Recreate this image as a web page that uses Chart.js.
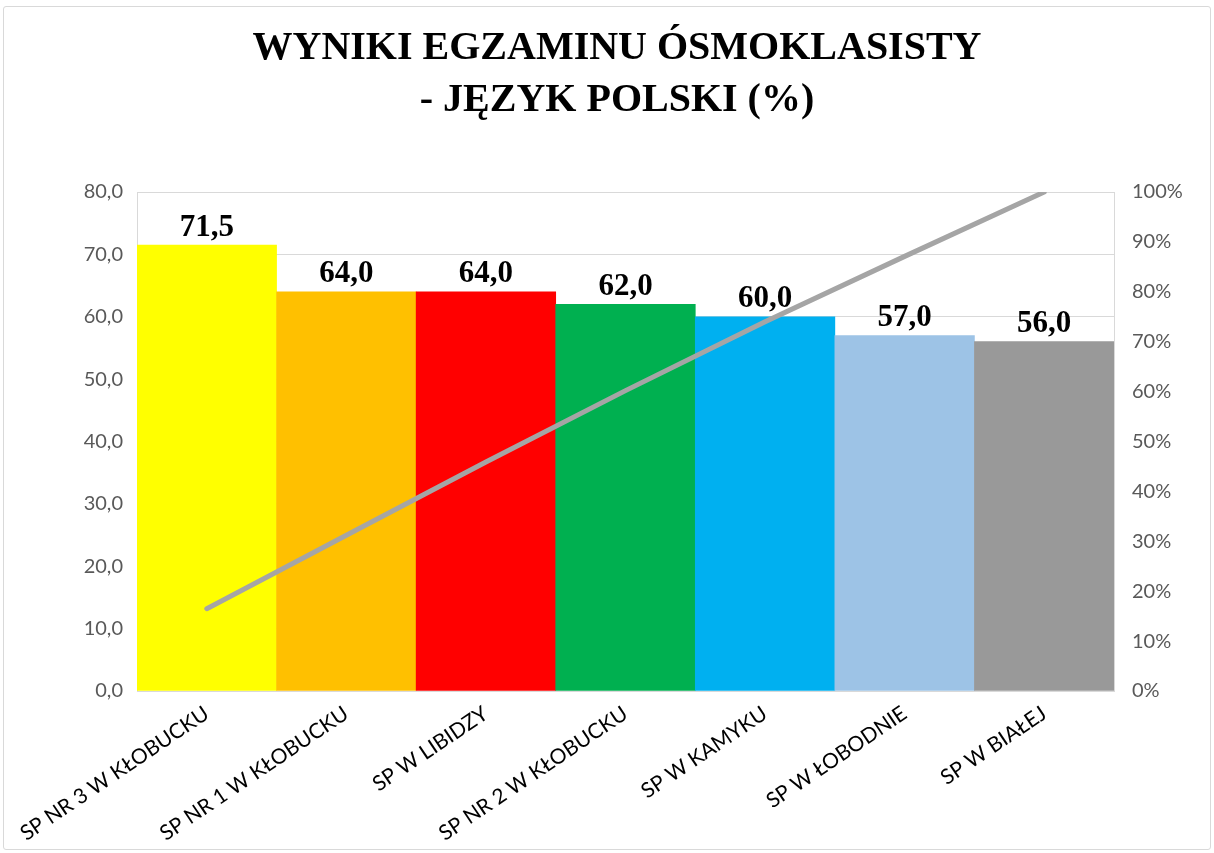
<!DOCTYPE html>
<html>
<head>
<meta charset="utf-8">
<script src="https://cdn.jsdelivr.net/npm/chart.js@4/dist/chart.umd.min.js"></script>
<style>
  html, body { margin: 0; background: #fff; }
  #wrap { position: relative; width: 1214px; height: 853px; }
  #frame { position: absolute; left: 3px; top: 6px; right: 3px; bottom: 3px; border: 1px solid #d9d9d9; border-radius: 3px; }
  canvas { position: absolute; left: 0; top: 0; }
</style>
</head>
<body>
<div id="wrap">
  <div id="frame"></div>
  <canvas id="chart" width="1214" height="853"></canvas>
</div>
<script>
// Data
const schools = [
  "SP NR 3 W KŁOBUCKU", "SP NR 1 W KŁOBUCKU", "SP W LIBIDZY", "SP NR 2 W KŁOBUCKU",
  "SP W KAMYKU", "SP W ŁOBODNIE", "SP W BIAŁEJ"
];
const scores = [71.5, 64.0, 64.0, 62.0, 60.0, 57.0, 56.0];
const cumulative = [16.5, 31.2, 45.9, 60.2, 74.0, 87.1, 100];
const barColors = ["#FFFF00", "#FFC000", "#FF0000", "#00B050", "#00B0F0", "#9DC3E6", "#999999"];
const titleLines = ["WYNIKI EGZAMINU ÓSMOKLASISTY", "- JĘZYK POLSKI (%)"];

const tickFont = { family: "Lato, sans-serif", size: 20 };

// labels above the bars
const barLabels = {
  id: "barLabels",
  afterDatasetsDraw(chart) {
    const meta = chart.getDatasetMeta(1);
    const ctx = chart.ctx;
    ctx.save();
    ctx.font = "bold 31px 'Liberation Serif', serif";
    ctx.fillStyle = "#000";
    ctx.textAlign = "center";
    ctx.textBaseline = "bottom";
    meta.data.forEach((bar, i) => {
      ctx.fillText(scores[i].toFixed(1).replace(".", ","), bar.x, bar.y - 2);
    });
    ctx.restore();
  }
};

new Chart(document.getElementById("chart"), {
  data: {
    labels: schools,
    datasets: [
      {
        type: "line",
        data: cumulative,
        yAxisID: "y2",
        borderColor: "#A5A5A5",
        borderWidth: 5,
        borderCapStyle: "round",
        pointRadius: 0,
        tension: 0,
        order: 0
      },
      {
        type: "bar",
        data: scores,
        yAxisID: "y",
        backgroundColor: barColors,
        barPercentage: 1,
        categoryPercentage: 1,
        order: 1
      }
    ]
  },
  options: {
    responsive: false,
    animation: false,
    layout: { padding: { left: 20, right: 0, top: 0, bottom: 0 } },
    plugins: {
      legend: { display: false },
      tooltip: { enabled: false },
      title: {
        display: true,
        text: titleLines,
        color: "#000",
        font: { family: "'Liberation Serif', serif", size: 40, weight: "bold", lineHeight: 1.3 },
        padding: { top: 23, bottom: 65 }
      }
    },
    scales: {
      x: {
        grid: { display: false },
        border: { display: false },
        ticks: {
          color: "#000",
          font: { family: "Lato, sans-serif", size: 21 },
          minRotation: 34,
          maxRotation: 34,
          autoSkip: false,
          padding: 2
        },
        afterFit(axis) { axis.height = 162; }
      },
      y: {
        position: "left",
        min: 0,
        max: 80,
        ticks: {
          stepSize: 10,
          color: "#595959",
          font: tickFont,
          padding: 14,
          callback: v => v.toFixed(1).replace(".", ",")
        },
        grid: { color: "#d9d9d9", drawTicks: false },
        border: { display: true, color: "#d9d9d9" },
        afterFit(axis) { axis.width = 117; }
      },
      y2: {
        position: "right",
        min: 0,
        max: 100,
        ticks: {
          stepSize: 10,
          color: "#595959",
          font: tickFont,
          padding: 18,
          callback: v => v + "%"
        },
        grid: { display: false, drawTicks: false },
        border: { display: true, color: "#d9d9d9" },
        afterFit(axis) { axis.width = 100; }
      }
    }
  },
  plugins: [barLabels]
});
</script>
</body>
</html>
